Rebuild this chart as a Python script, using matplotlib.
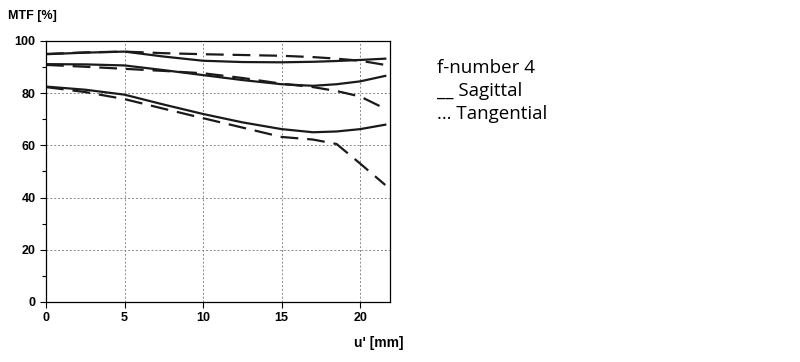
import numpy as np
from matplotlib import pyplot as plt

# image height u' [mm]
u = [0, 2.5, 5, 7.5, 10, 12.5, 15, 17, 18.5, 20, 21.6]

# sagittal (solid)
sag_hi = [94.9, 95.5, 95.9, 94.0, 92.4, 91.9, 91.8, 92.0, 92.3, 92.7, 93.2]
sag_mid = [91.1, 91.0, 90.6, 88.8, 86.9, 85.0, 83.4, 82.8, 83.4, 84.5, 86.6]
sag_lo = [82.5, 81.3, 79.4, 75.6, 72.0, 68.8, 66.2, 65.0, 65.3, 66.2, 67.9]

# tangential (dashed)
tan_hi = [95.0, 95.6, 95.9, 95.3, 94.9, 94.6, 94.3, 93.8, 93.2, 92.4, 90.8]
tan_mid = [90.8, 90.1, 89.3, 88.5, 87.6, 85.8, 83.6, 82.3, 80.8, 78.7, 74.0]
tan_lo = [82.3, 80.4, 77.7, 74.0, 70.4, 66.8, 63.2, 62.2, 60.5, 53.0, 44.8]

plt.rcParams['font.family'] = ['Liberation Sans', 'DejaVu Sans']

fig = plt.figure(figsize=(8, 3.62), dpi=100)
ax = fig.add_axes([0.0575, 0.166, 0.43, 0.721])

for s in [sag_hi, sag_mid, sag_lo]:
    ax.plot(u, s, color='#1a1a1a', lw=1.6)
for t in [tan_hi, tan_mid, tan_lo]:
    ax.plot(u, t, color='#1a1a1a', lw=1.6, dashes=(8, 4))

ax.set_xlim(0, 21.9)
ax.set_ylim(0, 100)
ax.set_xticks([0, 5, 10, 15, 20])
ax.set_yticks([0, 20, 40, 60, 80, 100])
ax.set_yticks([10, 30, 50, 70, 90], minor=True)
ax.grid(True, which='major', color='#888888', ls=(0, (2, 2)), lw=0.7)
ax.tick_params(axis='both', which='major', labelsize=9, length=4, width=0.8)
ax.tick_params(axis='y', which='minor', length=3, width=0.8)
for lab in ax.get_xticklabels() + ax.get_yticklabels():
    lab.set_fontweight('bold')
for sp in ax.spines.values():
    sp.set_linewidth(0.9)

fig.text(0.01, 0.955, "MTF [%]", fontsize=9, fontweight='bold', va='center')
fig.text(0.504, 0.052, "u' [mm]", fontsize=10, fontweight='bold', ha='right', va='center')

fig.text(0.546, 0.812, "f-number 4", fontsize=13.5, family=['Open Sans'], va='center')
fig.text(0.546, 0.748, "__ Sagittal", fontsize=13.5, family=['Open Sans'], va='center')
fig.text(0.546, 0.684, "\u2026 Tangential", fontsize=13.5, family=['Open Sans'], va='center')

fig.savefig("out.png", dpi=100)
